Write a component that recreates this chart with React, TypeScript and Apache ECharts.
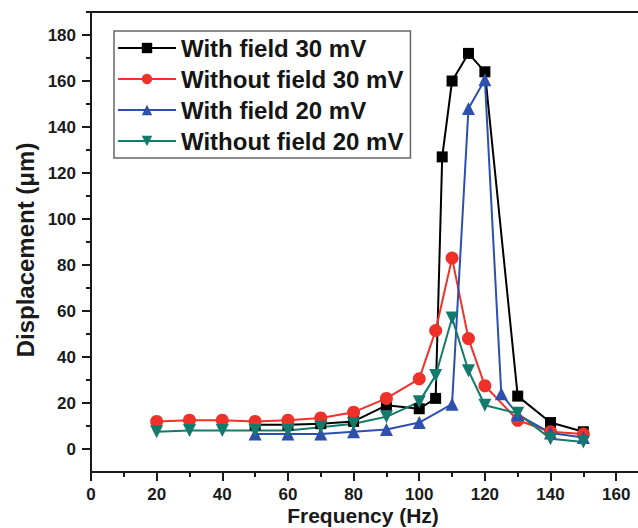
import React, { useEffect, useRef } from "react";
import * as echarts from "echarts";

const seriesNames = ["With field 30 mV", "Without field 30 mV", "With field 20 mV", "Without field 20 mV"];

const withField30X = [50, 60, 70, 80, 90, 100, 105, 107, 110, 115, 120, 130, 140, 150];
const withField30Y = [10.5, 10.5, 11, 12, 19, 17.5, 22, 127, 160, 172, 164, 23, 11.5, 7.5];

const withoutField30X = [20, 30, 40, 50, 60, 70, 80, 90, 100, 105, 110, 115, 120, 130, 140, 150];
const withoutField30Y = [12, 12.5, 12.5, 12, 12.5, 13.5, 16, 22, 30.5, 51.5, 83, 48, 27.5, 12.5, 7.5, 6.5];

const withField20X = [50, 60, 70, 80, 90, 100, 110, 115, 120, 125, 130, 140, 150];
const withField20Y = [6.5, 6.5, 6.5, 7.5, 8.5, 11.5, 19.5, 148, 160.5, 24, 15, 7, 5];

const withoutField20X = [20, 30, 40, 50, 60, 70, 80, 90, 100, 105, 110, 115, 120, 130, 140, 150];
const withoutField20Y = [7.5, 8, 8, 8, 8, 9.5, 11, 14, 20.5, 32, 57, 34, 19, 15.5, 4.5, 3];

const yTickLabels = [0, 20, 40, 60, 80, 100, 120, 140, 160, 180];
const yMinorTicks = [10, 30, 50, 70, 90, 110, 130, 150, 170, 190];
const xTickLabels = [0, 20, 40, 60, 80, 100, 120, 140, 160];
const xMinorTicks = [10, 30, 50, 70, 90, 110, 130, 150, 170];

const xTitle = "Frequency (Hz)";
const yTitle = "Displacement (μm)";

const zip = (xs: number[], ys: number[]) => xs.map((x, i) => [x, ys[i]]);

const FONT = "'Liberation Sans', Arial, sans-serif";
const AXIS_COLOR = "#1a1a1a";

export default function App() {
  const ref = useRef<HTMLDivElement>(null);
  useEffect(() => {
    if (!ref.current) return;
    const chart = echarts.init(ref.current, null, { renderer: "svg" });
    const downTri = "path://M0,0L10,0L5,9Z";
    const mk = (name: string, data: number[][], color: string, symbol: string, size: number) => ({
      name,
      type: "line",
      data,
      xAxisIndex: 0,
      yAxisIndex: 0,
      symbol,
      symbolSize: size,
      lineStyle: { color, width: 2 },
      itemStyle: { color },
      emphasis: { disabled: true },
    });
    chart.setOption({
      animation: false,
      backgroundColor: "#ffffff",
      grid: { left: 91, right: 0, top: 12, bottom: 56, containLabel: false },
      legend: {
        orient: "vertical",
        left: 114,
        top: 31,
        padding: [5, 7, 5, 3],
        itemGap: 7,
        itemWidth: 58,
        itemHeight: 13,
        borderColor: "#666",
        borderWidth: 1.5,
        textStyle: { fontFamily: FONT, fontWeight: "bold", fontSize: 24, color: "#151515", lineHeight: 24 },
        data: seriesNames,
      },
      graphic: [
        {
          type: "text",
          x: 25,
          y: 250,
          rotation: Math.PI / 2,
          style: {
            text: yTitle,
            fontFamily: FONT,
            fontWeight: "bold",
            fontSize: 24,
            fill: "#1a1a1a",
            textAlign: "center",
            textVerticalAlign: "middle",
          },
        },
        {
          type: "text",
          x: 363,
          y: 515,
          style: {
            text: xTitle,
            fontFamily: FONT,
            fontWeight: "bold",
            fontSize: 21,
            fill: "#1a1a1a",
            textAlign: "center",
            textVerticalAlign: "middle",
          },
        },
      ],
      xAxis: [
        {
          type: "value",
          min: 0,
          max: 170,
          interval: 20,
          position: "bottom",
          axisLine: { show: true, onZero: false, lineStyle: { color: AXIS_COLOR, width: 2 } },
          axisTick: { show: true, inside: false, length: 9, lineStyle: { width: 2, color: AXIS_COLOR }, customValues: xTickLabels },
          axisLabel: {
            customValues: xTickLabels,
            margin: 14,
            fontFamily: FONT,
            fontWeight: "bold",
            fontSize: 17,
            color: "#1a1a1a",
          },
          splitLine: { show: false },
        },
        {
          type: "value",
          min: 0,
          max: 170,
          position: "top",
          axisLine: { show: true, onZero: false, lineStyle: { color: AXIS_COLOR, width: 2 } },
          axisTick: { show: false },
          axisLabel: { show: false },
          splitLine: { show: false },
        },
        {
          type: "value",
          min: 0,
          max: 170,
          position: "bottom",
          axisLine: { show: false, onZero: false },
          axisTick: { show: true, inside: false, length: 5, lineStyle: { width: 2, color: AXIS_COLOR }, customValues: xMinorTicks },
          axisLabel: { show: false },
          splitLine: { show: false },
        },
      ],
      yAxis: [
        {
          type: "value",
          min: -10,
          max: 190,
          position: "left",
          axisLine: { show: true, onZero: false, lineStyle: { color: AXIS_COLOR, width: 2 } },
          axisTick: { show: true, inside: false, length: 9, lineStyle: { width: 2, color: AXIS_COLOR }, customValues: yTickLabels },
          axisLabel: {
            customValues: yTickLabels,
            margin: 15,
            fontFamily: FONT,
            fontWeight: "bold",
            fontSize: 17,
            color: "#1a1a1a",
          },
          splitLine: { show: false },
        },
        {
          type: "value",
          min: -10,
          max: 190,
          position: "left",
          axisLine: { show: false, onZero: false },
          axisTick: { show: true, inside: false, length: 5, lineStyle: { width: 2, color: AXIS_COLOR }, customValues: yMinorTicks },
          axisLabel: { show: false },
          splitLine: { show: false },
        },
      ],
      series: [
        mk(seriesNames[0], zip(withField30X, withField30Y), "#000000", "rect", 11),
        mk(seriesNames[1], zip(withoutField30X, withoutField30Y), "#ee3129", "circle", 13),
        mk(seriesNames[2], zip(withField20X, withField20Y), "#2d4fae", "triangle", 13),
        mk(seriesNames[3], zip(withoutField20X, withoutField20Y), "#137a6c", downTri, 13),
      ],
    });
    return () => chart.dispose();
  }, []);
  return (
    <div style={{ position: "fixed", left: 0, top: 0, width: 638, height: 528, overflow: "hidden", background: "#fff" }}>
      <div ref={ref} style={{ position: "absolute", left: 0, top: 0, width: 649, height: 528 }} />
    </div>
  );
}
